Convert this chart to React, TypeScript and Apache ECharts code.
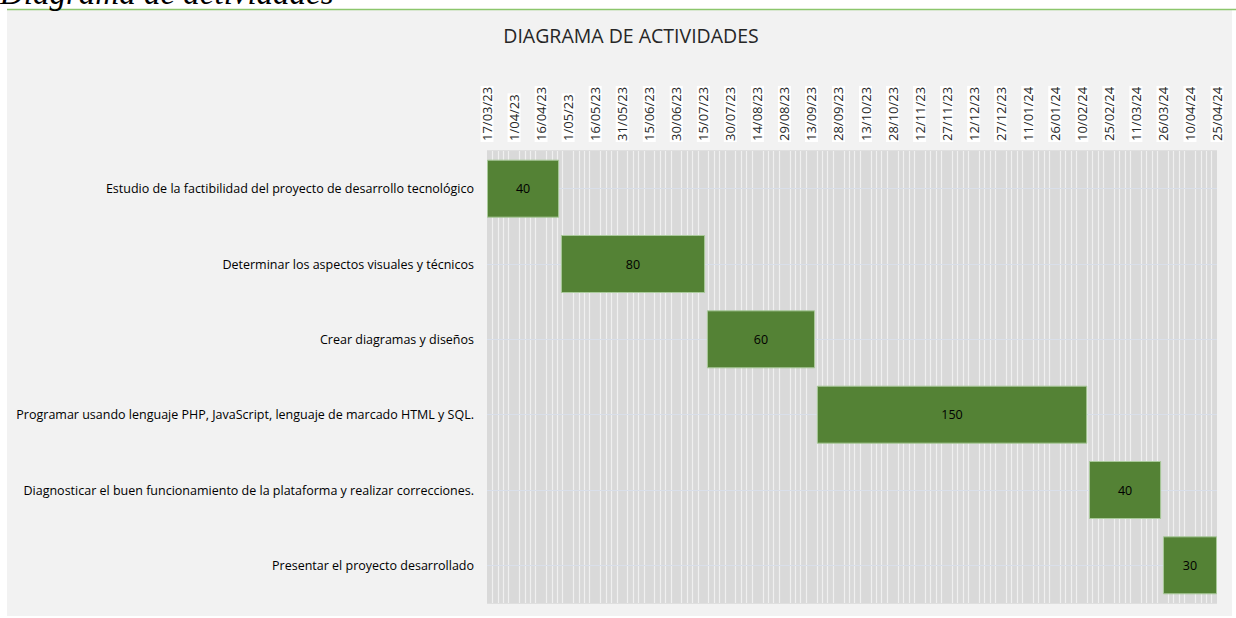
import React, { useEffect, useRef } from "react";
import * as echarts from "echarts";

// Tasks (top to bottom)
const tasks = [
  "Estudio de la factibilidad del proyecto de desarrollo tecnológico",
  "Determinar los aspectos visuales y técnicos",
  "Crear diagramas y diseños",
  "Programar usando lenguaje PHP, JavaScript, lenguaje de marcado HTML y SQL.",
  "Diagnosticar el buen funcionamiento de la plataforma y realizar correcciones.",
  "Presentar el proyecto desarrollado",
];

// Start of each task, in days after 17/03/23
const startOffsets = [0, 41, 122, 183, 334, 375];
// Duration of each task, in days
const durations = [40, 80, 60, 150, 40, 30];

// Date tick labels, one every 15 days from 17/03/23
const dateLabels = [
  "17/03/23", "1/04/23", "16/04/23", "1/05/23", "16/05/23", "31/05/23",
  "15/06/23", "30/06/23", "15/07/23", "30/07/23", "14/08/23", "29/08/23",
  "13/09/23", "28/09/23", "13/10/23", "28/10/23", "12/11/23", "27/11/23",
  "12/12/23", "27/12/23", "11/01/24", "26/01/24", "10/02/24", "25/02/24",
  "11/03/24", "26/03/24", "10/04/24", "25/04/24",
];
const tickStep = 15;

const FONT = "'Open Sans', 'Noto Sans', sans-serif";

export default function App() {
  const ref = useRef<HTMLDivElement>(null);

  useEffect(() => {
    if (!ref.current) return;
    const chart = echarts.init(ref.current, null, { renderer: "svg" });
    const option: any = {
      animation: false,
      backgroundColor: "#ffffff",
      graphic: [
        {
          type: "rect",
          z: -10,
          silent: true,
          shape: { x: 7, y: 10, width: 1225, height: 606 },
          style: { fill: "#f2f2f2" },
        },
        {
          type: "line",
          z: -9,
          silent: true,
          shape: { x1: 7, y1: 9.5, x2: 1236, y2: 9.5 },
          style: { stroke: "#8cc66c", lineWidth: 1.5 },
        },
        {
          type: "text",
          silent: true,
          x: 0,
          y: -7,
          style: {
            text: "Diagrama de actividades",
            font: "italic 33px 'Liberation Serif', serif",
            fill: "#000000",
            verticalAlign: "middle",
          },
        },
        {
          type: "text",
          silent: true,
          x: 631,
          y: 35,
          style: {
            text: "DIAGRAMA DE ACTIVIDADES",
            font: "19.5px " + FONT,
            fill: "#262626",
            align: "center",
            verticalAlign: "middle",
          },
        },
      ],
      grid: {
        left: 487,
        top: 151,
        width: 730,
        height: 452,
        show: true,
        backgroundColor: "#d9d9d9",
        borderWidth: 0,
      },
      xAxis: {
        type: "value",
        position: "top",
        min: 0,
        max: (dateLabels.length - 1) * tickStep,
        interval: tickStep,
        axisLine: { show: false },
        axisTick: { show: false },
        splitLine: { show: false },
        minorTick: { show: false, splitNumber: 5 },
        minorSplitLine: {
          show: true,
          lineStyle: { color: "#f0f0f0", width: 1.2 },
        },
        axisLabel: {
          rotate: -90,
          margin: 9,
          interval: 0,
          fontFamily: FONT,
          fontSize: 13,
          color: "#262626",
          backgroundColor: "#ffffff",
          padding: [0, 1, 0, 1],
          lineHeight: 13,
          formatter: (v: number) => dateLabels[Math.round(v / tickStep)] ?? "",
        },
      },
      yAxis: {
        type: "category",
        data: tasks,
        inverse: true,
        axisLine: { show: false },
        axisTick: { show: false },
        splitLine: {
          show: true,
          lineStyle: { color: "#d9d9d9", width: 1.5 },
        },
        axisLabel: {
          margin: 13,
          fontFamily: FONT,
          fontSize: 12.5,
          color: "#000000",
        },
      },
      series: [
        {
          name: "Inicio",
          type: "bar",
          stack: "gantt",
          silent: true,
          barWidth: 58,
          itemStyle: { color: "transparent" },
          emphasis: { disabled: true },
          data: startOffsets,
          z: 1,
          markLine: {
            silent: true,
            z: 1,
            symbol: "none",
            label: { show: false },
            lineStyle: { color: "#d9dfea", type: "solid", width: 1 },
            data: tasks.map((t) => ({ yAxis: t })),
          },
        },
        {
          name: "Duración",
          type: "bar",
          stack: "gantt",
          silent: true,
          barWidth: 58,
          z: 3,
          itemStyle: {
            color: "#548235",
            borderColor: "#a9c99a",
            borderWidth: 1,
          },
          emphasis: { disabled: true },
          label: {
            show: true,
            position: "inside",
            fontFamily: FONT,
            fontSize: 12.5,
            color: "#000000",
          },
          data: durations,
        },
      ],
    };
    chart.setOption(option);
    return () => chart.dispose();
  }, []);

  return (
    <div
      ref={ref}
      style={{
        position: "absolute",
        left: 0,
        top: 0,
        width: 1236,
        height: 618,
      }}
    />
  );
}
